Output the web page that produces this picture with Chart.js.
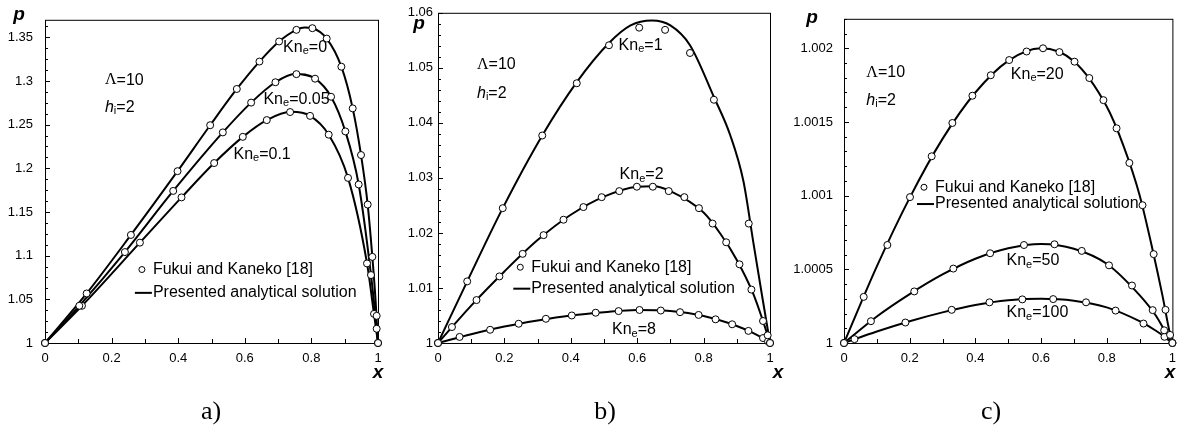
<!DOCTYPE html>
<html>
<head>
<meta charset="utf-8">
<script src="https://cdn.jsdelivr.net/npm/chart.js@4.4.0/dist/chart.umd.min.js"></script>
<style>
  body { margin: 0; background: #fff; }
  #wrap { position: relative; width: 1184px; height: 428px; }
  canvas { position: absolute; top: 0; }
</style>
</head>
<body>
<div id="wrap">
  <canvas id="chartA" width="395" height="428" style="left:0px"></canvas>
  <canvas id="chartB" width="395" height="428" style="left:395px"></canvas>
  <canvas id="chartC" width="394" height="428" style="left:790px"></canvas>
</div>
<script>
// ---- a) Kn_e = 0, 0.05, 0.1 ----
// Fukui and Kaneko [18] (markers)
const aDotX0 = [0, 0.125, 0.258, 0.398, 0.496, 0.576, 0.644, 0.703, 0.755, 0.803, 0.846, 0.890, 0.924, 0.949, 0.969, 0.983, 0.996, 1];
const aDotP0 = [1, 1.0567, 1.1237, 1.1967, 1.2493, 1.2908, 1.3222, 1.3452, 1.3585, 1.3604, 1.3485, 1.3163, 1.2686, 1.2152, 1.1585, 1.0986, 1.0311, 1];
const aDotX1 = [0, 0.103, 0.240, 0.385, 0.534, 0.619, 0.692, 0.755, 0.811, 0.859, 0.902, 0.942, 0.979, 0.996, 1];
const aDotP1 = [1, 1.0426, 1.1041, 1.1741, 1.2411, 1.2752, 1.2985, 1.3078, 1.3026, 1.2819, 1.2422, 1.1815, 1.0778, 1.0163, 1];
const aDotX2 = [0, 0.111, 0.285, 0.410, 0.508, 0.594, 0.666, 0.736, 0.796, 0.852, 0.910, 0.967, 0.988, 1];
const aDotP2 = [1, 1.0426, 1.1149, 1.1667, 1.2060, 1.2360, 1.2552, 1.2644, 1.2600, 1.2385, 1.1890, 1.0911, 1.0333, 1];
// analytical solution (lines)
const aLineX0 = [0, 0.125, 0.258, 0.398, 0.496, 0.576, 0.644, 0.703, 0.755, 0.780, 0.803, 0.846, 0.890, 0.924, 0.949, 0.969, 0.983, 0.993, 1];
const aLineP0 = [1, 1.0567, 1.1237, 1.1967, 1.2493, 1.2908, 1.3222, 1.3452, 1.3585, 1.3612, 1.3604, 1.3485, 1.3163, 1.2686, 1.2152, 1.1585, 1.0986, 1.0470, 1];
const aLineX1 = [0, 0.103, 0.240, 0.385, 0.534, 0.619, 0.692, 0.750, 0.811, 0.859, 0.902, 0.942, 0.979, 0.996, 1];
const aLineP1 = [1, 1.0426, 1.1041, 1.1741, 1.2411, 1.2752, 1.2985, 1.3080, 1.3026, 1.2819, 1.2422, 1.1815, 1.0778, 1.0163, 1];
const aLineX2 = [0, 0.111, 0.285, 0.410, 0.508, 0.594, 0.666, 0.740, 0.796, 0.852, 0.910, 0.967, 0.988, 1];
const aLineP2 = [1, 1.0426, 1.1149, 1.1667, 1.2060, 1.2360, 1.2552, 1.2646, 1.2600, 1.2385, 1.1890, 1.0911, 1.0333, 1];

// ---- b) Kn_e = 1, 2, 8 ----
const bDotX0 = [0, 0.088, 0.195, 0.314, 0.418, 0.515, 0.606, 0.684, 0.759, 0.831, 0.936, 1];
const bDotP0 = [1, 1.0112, 1.0245, 1.0377, 1.0472, 1.0541, 1.0573, 1.0569, 1.0527, 1.0442, 1.0217, 1];
const bDotX1 = [0, 0.042, 0.116, 0.185, 0.255, 0.318, 0.378, 0.438, 0.493, 0.546, 0.599, 0.647, 0.695, 0.742, 0.786, 0.827, 0.868, 0.908, 0.944, 0.979, 0.993, 1];
const bDotP1 = [1, 1.0029, 1.0078, 1.0121, 1.0162, 1.0196, 1.0224, 1.0247, 1.0265, 1.0276, 1.0284, 1.0284, 1.0276, 1.0265, 1.0245, 1.0217, 1.0183, 1.0143, 1.0097, 1.0040, 1.0014, 1];
const bDotX2 = [0, 0.065, 0.157, 0.243, 0.325, 0.403, 0.475, 0.544, 0.607, 0.671, 0.729, 0.785, 0.836, 0.886, 0.935, 0.979, 0.994, 1];
const bDotP2 = [1, 1.0011, 1.0024, 1.0035, 1.0044, 1.0050, 1.0055, 1.0058, 1.0060, 1.0059, 1.0056, 1.0051, 1.0043, 1.0034, 1.0022, 1.0009, 1.0003, 1];
const bLineX0 = [0, 0.088, 0.195, 0.314, 0.418, 0.515, 0.580, 0.644, 0.700, 0.759, 0.831, 0.880, 0.920, 0.950, 0.975, 1];
const bLineP0 = [1, 1.0112, 1.0245, 1.0377, 1.0474, 1.0545, 1.0577, 1.0586, 1.0577, 1.0541, 1.0447, 1.0378, 1.0294, 1.0182, 1.0090, 1];
const bLineX1 = [0, 0.1, 0.2, 0.3, 0.4, 0.5, 0.6, 0.65, 0.7, 0.8, 0.85, 0.9, 0.95, 0.98, 1];
const bLineP1 = [1, 1.0068, 1.0130, 1.0187, 1.0233, 1.0266, 1.0284, 1.0285, 1.0276, 1.0237, 1.0199, 1.0151, 1.0089, 1.0038, 1];
const bLineX2 = [0, 0.1, 0.2, 0.3, 0.4, 0.5, 0.6, 0.7, 0.8, 0.9, 0.95, 0.98, 1];
const bLineP2 = [1, 1.0016, 1.0030, 1.0041, 1.0050, 1.0056, 1.0060, 1.0058, 1.0049, 1.0031, 1.0018, 1.0008, 1];

// ---- c) Kn_e = 20, 50, 100 ----
const cDotX0 = [0, 0.060, 0.132, 0.201, 0.267, 0.330, 0.391, 0.447, 0.503, 0.556, 0.606, 0.656, 0.702, 0.747, 0.790, 0.830, 0.869, 0.909, 0.943, 0.979, 0.993, 1];
const cDotP0 = [1, 1.000313, 1.000665, 1.00099, 1.001267, 1.001493, 1.001678, 1.001817, 1.00192, 1.001978, 1.002, 1.001974, 1.001909, 1.001798, 1.001648, 1.001457, 1.001222, 1.000935, 1.000603, 1.000225, 1.000055, 1];
const cDotX1 = [0, 0.082, 0.214, 0.333, 0.445, 0.548, 0.641, 0.724, 0.807, 0.877, 0.940, 0.975, 1];
const cDotP1 = [1, 1.000148, 1.00035, 1.000505, 1.000609, 1.000665, 1.00067, 1.000625, 1.000527, 1.00039, 1.000223, 1.000086, 1];
const cDotX2 = [0, 0.032, 0.187, 0.328, 0.443, 0.543, 0.637, 0.737, 0.827, 0.912, 0.976, 1];
const cDotP2 = [1, 1.000026, 1.000139, 1.000225, 1.000276, 1.000296, 1.000298, 1.000276, 1.00022, 1.000132, 1.000042, 1];
const cLineX0 = [0, 0.1, 0.2, 0.3, 0.4, 0.5, 0.6, 0.7, 0.8, 0.85, 0.9, 0.94, 0.97, 0.99, 1];
const cLineP0 = [1, 1.00052, 1.000985, 1.001385, 1.0017, 1.001915, 1.002, 1.001912, 1.001605, 1.001345, 1.001005, 1.00063, 1.00032, 1.00009, 1];
const cLineX1 = [0, 0.1, 0.2, 0.3, 0.4, 0.5, 0.6, 0.7, 0.8, 0.9, 0.95, 0.98, 1];
const cLineP1 = [1, 1.00018, 1.000332, 1.000465, 1.000572, 1.000643, 1.000672, 1.00064, 1.000538, 1.000325, 1.000185, 1.00007, 1];
const cLineX2 = [0, 0.1, 0.2, 0.3, 0.4, 0.5, 0.6, 0.7, 0.8, 0.9, 0.95, 0.98, 1];
const cLineP2 = [1, 1.000078, 1.000148, 1.000208, 1.000258, 1.00029, 1.0003, 1.000287, 1.000242, 1.000148, 1.000083, 1.000035, 1];

// axis ticks
const xTicks = [0, 0.2, 0.4, 0.6, 0.8, 1];
const aTicks = [1, 1.05, 1.1, 1.15, 1.2, 1.25, 1.3, 1.35];
const bTicks = [1, 1.01, 1.02, 1.03, 1.04, 1.05, 1.06];
const cTicks = [1, 1.0005, 1.001, 1.0015, 1.002];

const SANS = '"Liberation Sans", Arial, sans-serif';
const SERIF = '"Liberation Serif", "Times New Roman", serif';

function pts(xs, ps) {
  return xs.map((x, i) => ({ x: x, y: ps[i] }));
}

// 白抜き丸マーカー
function dots(xs, ps) {
  return {
    data: pts(xs, ps), showLine: false, order: 1, clip: false,
    pointRadius: 3.5, pointHoverRadius: 3.5, pointBorderWidth: 1,
    pointBackgroundColor: '#fff', pointBorderColor: '#000'
  };
}

// 解析解の実線
function curve(xs, ps) {
  return {
    data: pts(xs, ps), showLine: true, order: 2, clip: false,
    pointRadius: 0, borderColor: '#000', borderWidth: 2,
    cubicInterpolationMode: 'monotone'
  };
}

// "Kn" + 下付き "e" + "=0" のような文字
function drawSub(ctx, x, y, main, sub, rest, italic) {
  ctx.font = (italic ? 'italic ' : '') + '16px ' + SANS;
  ctx.fillText(main, x, y);
  x += ctx.measureText(main).width;
  ctx.font = '11px ' + SANS;
  ctx.fillText(sub, x, y + 4);
  x += ctx.measureText(sub).width;
  ctx.font = '16px ' + SANS;
  ctx.fillText(rest, x, y);
}

function makePanel(id, cfg) {
  const decor = {
    id: 'decor',
    // 枠と内向きの目盛り
    beforeDatasetsDraw(chart) {
      const ctx = chart.ctx, a = chart.chartArea;
      const xs = chart.scales.x, ys = chart.scales.y;
      ctx.save();
      ctx.strokeStyle = '#000';
      ctx.lineWidth = 1;
      ctx.strokeRect(a.left + 0.5, a.top + 0.5, a.right - a.left, a.bottom - a.top);
      ctx.beginPath();
      for (let i = 0; i <= 10; i++) {
        const px = Math.round(xs.getPixelForValue(i * 0.1)) + 0.5;
        ctx.moveTo(px, a.bottom);
        ctx.lineTo(px, a.bottom - (i % 2 === 0 ? 5 : 4));
      }
      const n = Math.floor((cfg.yMax - cfg.yMin) / cfg.yMinor + 1e-6);
      for (let i = 0; i <= n; i++) {
        const py = Math.round(ys.getPixelForValue(cfg.yMin + i * cfg.yMinor)) + 0.5;
        ctx.moveTo(a.left, py);
        ctx.lineTo(a.left + (i % cfg.yEvery === 0 ? 5 : 3), py);
      }
      ctx.stroke();
      ctx.restore();
    },
    // 注記・凡例・軸名・キャプション
    afterDraw(chart) {
      const ctx = chart.ctx;
      const xs = chart.scales.x, ys = chart.scales.y;
      const X = v => xs.getPixelForValue(v), Y = v => ys.getPixelForValue(v);
      ctx.save();
      ctx.fillStyle = '#000';
      ctx.textBaseline = 'middle';
      ctx.textAlign = 'left';

      // Λ=10, h_i=2
      ctx.font = '16px ' + SERIF;
      ctx.fillText('\u039B', X(cfg.info[0]), Y(cfg.info[1]));
      const lw = ctx.measureText('\u039B').width;
      ctx.font = '16px ' + SANS;
      ctx.fillText('=10', X(cfg.info[0]) + lw, Y(cfg.info[1]));
      drawSub(ctx, X(cfg.info[0]), Y(cfg.info[2]), 'h', 'i', '=2', true);

      // Kn_e ラベル
      cfg.kn.forEach(k => drawSub(ctx, X(k[0]), Y(k[1]), 'Kn', 'e', '=' + k[2], false));

      // 凡例
      const lg = cfg.legend;
      ctx.beginPath();
      ctx.arc(X(lg[0]) - 10, Y(lg[1]), 3, 0, Math.PI * 2);
      ctx.fillStyle = '#fff';
      ctx.fill();
      ctx.strokeStyle = '#000';
      ctx.lineWidth = 1;
      ctx.stroke();
      ctx.beginPath();
      ctx.moveTo(X(lg[0]) - 17, Y(lg[2]));
      ctx.lineTo(X(lg[0]), Y(lg[2]));
      ctx.lineWidth = 2;
      ctx.stroke();
      ctx.fillStyle = '#000';
      ctx.font = '16px ' + SANS;
      ctx.fillText('Fukui and Kaneko [18]', X(lg[0]) + 1, Y(lg[1]));
      ctx.fillText('Presented analytical solution', X(lg[0]) + 1, Y(lg[2]));

      // 軸名 p, x
      ctx.textAlign = 'center';
      ctx.textBaseline = 'alphabetic';
      ctx.font = 'italic bold 19px ' + SANS;
      ctx.fillText('p', cfg.pPos[0], cfg.pPos[1]);
      ctx.fillText('x', cfg.xPos[0], 378);

      // キャプション
      ctx.font = '26px ' + SERIF;
      ctx.fillText(cfg.caption, cfg.capX, 419);
      ctx.restore();
    }
  };

  return new Chart(document.getElementById(id), {
    type: 'scatter',
    data: { datasets: cfg.datasets },
    options: {
      responsive: false,
      devicePixelRatio: 1,
      animation: false,
      events: [],
      layout: { padding: { left: 0, top: cfg.top, right: cfg.right, bottom: 0 } },
      plugins: { legend: { display: false }, tooltip: { enabled: false } },
      scales: {
        x: {
          type: 'linear', min: 0, max: 1,
          afterBuildTicks: s => { s.ticks = xTicks.map(v => ({ value: v })); },
          ticks: { padding: 8, color: '#000', autoSkip: false, maxRotation: 0,
                   font: { family: SANS, size: 13 }, callback: v => String(+v.toFixed(6)) },
          grid: { display: false, drawTicks: false },
          border: { display: false },
          afterFit: s => { s.height = 85; }
        },
        y: {
          type: 'linear', min: cfg.yMin, max: cfg.yMax,
          afterBuildTicks: s => { s.ticks = cfg.yTicks.map(v => ({ value: v })); },
          ticks: { padding: cfg.yPad, color: '#000', autoSkip: false,
                   font: { family: SANS, size: 13 }, callback: v => String(+v.toFixed(6)) },
          grid: { display: false, drawTicks: false },
          border: { display: false },
          afterFit: s => { s.width = cfg.left; }
        }
      }
    },
    plugins: [decor]
  });
}

makePanel('chartA', {
  datasets: [
    dots(aDotX0, aDotP0), dots(aDotX1, aDotP1), dots(aDotX2, aDotP2),
    curve(aLineX0, aLineP0), curve(aLineX1, aLineP1), curve(aLineX2, aLineP2)
  ],
  yMin: 1, yMax: 1.37, yTicks: aTicks, yMinor: 0.0125, yEvery: 4, yPad: 12,
  left: 45, right: 17, top: 10,
  info: [0.18, 1.3008, 1.2697],
  kn: [[0.715, 1.3386, '0'], [0.656, 1.2789, '0.05'], [0.566, 1.216, '0.1']],
  legend: [0.321, 1.0841, 1.0574],
  pPos: [19, 20], xPos: [378], caption: 'a)', capX: 211
});

makePanel('chartB', {
  datasets: [
    dots(bDotX0, bDotP0), dots(bDotX1, bDotP1), dots(bDotX2, bDotP2),
    curve(bLineX0, bLineP0), curve(bLineX1, bLineP1), curve(bLineX2, bLineP2)
  ],
  yMin: 1, yMax: 1.06, yTicks: bTicks, yMinor: 0.002, yEvery: 5, yPad: 5,
  left: 43, right: 20, top: 11,
  info: [0.1175, 1.0505, 1.04536],
  kn: [[0.544, 1.0541, '1'], [0.547, 1.0306, '2'], [0.524, 1.00235, '8']],
  legend: [0.278, 1.01377, 1.00987],
  pPos: [24, 29], xPos: [383], caption: 'b)', capX: 210
});

makePanel('chartC', {
  datasets: [
    dots(cDotX0, cDotP0), dots(cDotX1, cDotP1), dots(cDotX2, cDotP2),
    curve(cLineX0, cLineP0), curve(cLineX1, cLineP1), curve(cLineX2, cLineP2)
  ],
  yMin: 1, yMax: 1.0022, yTicks: cTicks, yMinor: 0.0001, yEvery: 5, yPad: 11,
  left: 54, right: 8, top: 10,
  info: [0.068, 1.001834, 1.001647],
  kn: [[0.508, 1.001823, '20'], [0.495, 1.000557, '50'], [0.495, 1.000205, '100']],
  legend: [0.274, 1.001057, 1.000943],
  pPos: [22, 23], xPos: [380], caption: 'c)', capX: 201
});
</script>
</body>
</html>
